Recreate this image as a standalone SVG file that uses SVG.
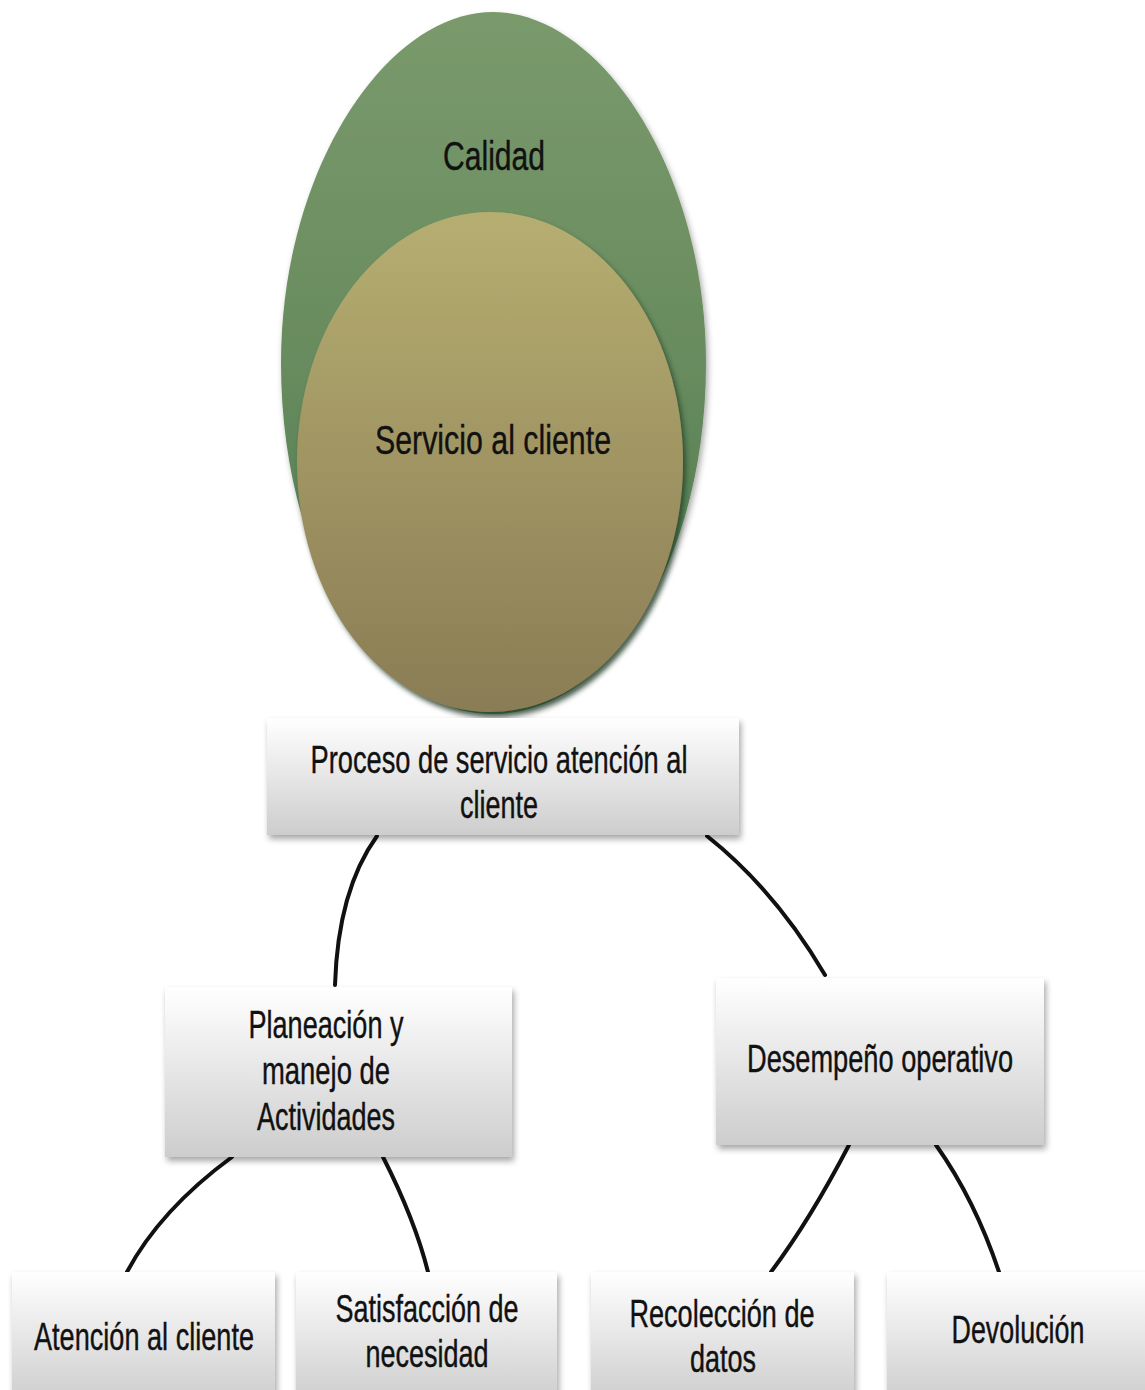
<svg xmlns="http://www.w3.org/2000/svg" width="1145" height="1390" viewBox="0 0 1145 1390">
<defs>
<linearGradient id="gGreen" x1="0" y1="0" x2="0" y2="1">
<stop offset="0" stop-color="#7a9a6c"/>
<stop offset="0.5" stop-color="#688b5e"/>
<stop offset="1" stop-color="#4a774e"/>
</linearGradient>
<linearGradient id="gTan" x1="0" y1="0" x2="0" y2="1">
<stop offset="0" stop-color="#b6ae71"/>
<stop offset="1" stop-color="#8a7c55"/>
</linearGradient>
<linearGradient id="gBox" x1="0" y1="0" x2="0" y2="1">
<stop offset="0" stop-color="#ffffff"/>
<stop offset="1" stop-color="#cdcdcd"/>
</linearGradient>
<filter id="sh" x="-10%" y="-10%" width="130%" height="140%">
<feDropShadow dx="2" dy="4" stdDeviation="3" flood-color="#000" flood-opacity="0.35"/>
</filter>
<filter id="shE" x="-10%" y="-10%" width="130%" height="130%">
<feDropShadow dx="3" dy="4" stdDeviation="2.5" flood-color="#1f3a22" flood-opacity="0.7"/>
</filter>
</defs>
<style>
.box{fill:url(#gBox);filter:url(#sh);}
.t{font-family:"Liberation Sans Narrow","Liberation Sans",Arial,sans-serif;font-size:38px;fill:#111;stroke:#111;stroke-width:0.4;text-anchor:middle;}
.tb{font-family:"Liberation Sans Narrow","Liberation Sans",Arial,sans-serif;font-size:40px;fill:#111;stroke:#111;stroke-width:0.4;text-anchor:middle;}
.c{fill:none;stroke:#111;stroke-width:4;stroke-linecap:round;}
</style>
<rect width="1145" height="1390" fill="#ffffff"/>

<g id="calidad">
<path d="M493,12 C600,12 706,170 706,363 C706,560 610,714 493,714 C376,714 281,560 281,363 C281,170 386,12 493,12 Z" fill="url(#gGreen)" filter="url(#sh)"/>
<text class="tb" x="494" y="170" textLength="102" lengthAdjust="spacingAndGlyphs">Calidad</text>
</g>
<g id="servicio">
<ellipse cx="490" cy="462" rx="193" ry="250" fill="url(#gTan)" filter="url(#shE)"/>
<text class="tb" x="493" y="454" textLength="236" lengthAdjust="spacingAndGlyphs">Servicio al cliente</text>
</g>

<g id="connectors">
<path class="c" d="M377,836 Q338,890 335,985"/>
<path class="c" d="M707,836 Q775,890 825,975"/>
<path class="c" d="M232,1157 Q160,1210 127,1272"/>
<path class="c" d="M383,1157 Q415,1220 428,1272"/>
<path class="c" d="M849,1145 Q810,1220 771,1272"/>
<path class="c" d="M936,1145 Q975,1200 999,1272"/>
</g>

<g id="proceso">
<rect class="box" x="267" y="718" width="472" height="117"/>
<text class="t" x="499" y="773" textLength="377" lengthAdjust="spacingAndGlyphs">Proceso de servicio atención al</text>
<text class="t" x="499" y="818" textLength="78" lengthAdjust="spacingAndGlyphs">cliente</text>
</g>

<g id="planeacion">
<rect class="box" x="165" y="987" width="347" height="170"/>
<text class="t" x="326" y="1038" textLength="155" lengthAdjust="spacingAndGlyphs">Planeación y</text>
<text class="t" x="326" y="1084" textLength="128" lengthAdjust="spacingAndGlyphs">manejo de</text>
<text class="t" x="326" y="1130" textLength="138" lengthAdjust="spacingAndGlyphs">Actividades</text>
</g>

<g id="desempeno">
<rect class="box" x="716" y="978" width="328" height="167"/>
<text class="t" x="880" y="1072" textLength="266" lengthAdjust="spacingAndGlyphs">Desempeño operativo</text>
</g>

<g id="atencion">
<rect class="box" x="12" y="1272" width="263" height="130"/>
<text class="t" x="144" y="1350" textLength="220" lengthAdjust="spacingAndGlyphs">Atención al cliente</text>
</g>

<g id="satisfaccion">
<rect class="box" x="296" y="1272" width="261" height="130"/>
<text class="t" x="427" y="1322" textLength="183" lengthAdjust="spacingAndGlyphs">Satisfacción de</text>
<text class="t" x="427" y="1367" textLength="123" lengthAdjust="spacingAndGlyphs">necesidad</text>
</g>

<g id="recoleccion">
<rect class="box" x="591" y="1272" width="263" height="130"/>
<text class="t" x="722" y="1327" textLength="185" lengthAdjust="spacingAndGlyphs">Recolección de</text>
<text class="t" x="723" y="1372" textLength="66" lengthAdjust="spacingAndGlyphs">datos</text>
</g>

<g id="devolucion">
<rect class="box" x="887" y="1272" width="270" height="130"/>
<text class="t" x="1018" y="1343" textLength="133" lengthAdjust="spacingAndGlyphs">Devolución</text>
</g>
</svg>
